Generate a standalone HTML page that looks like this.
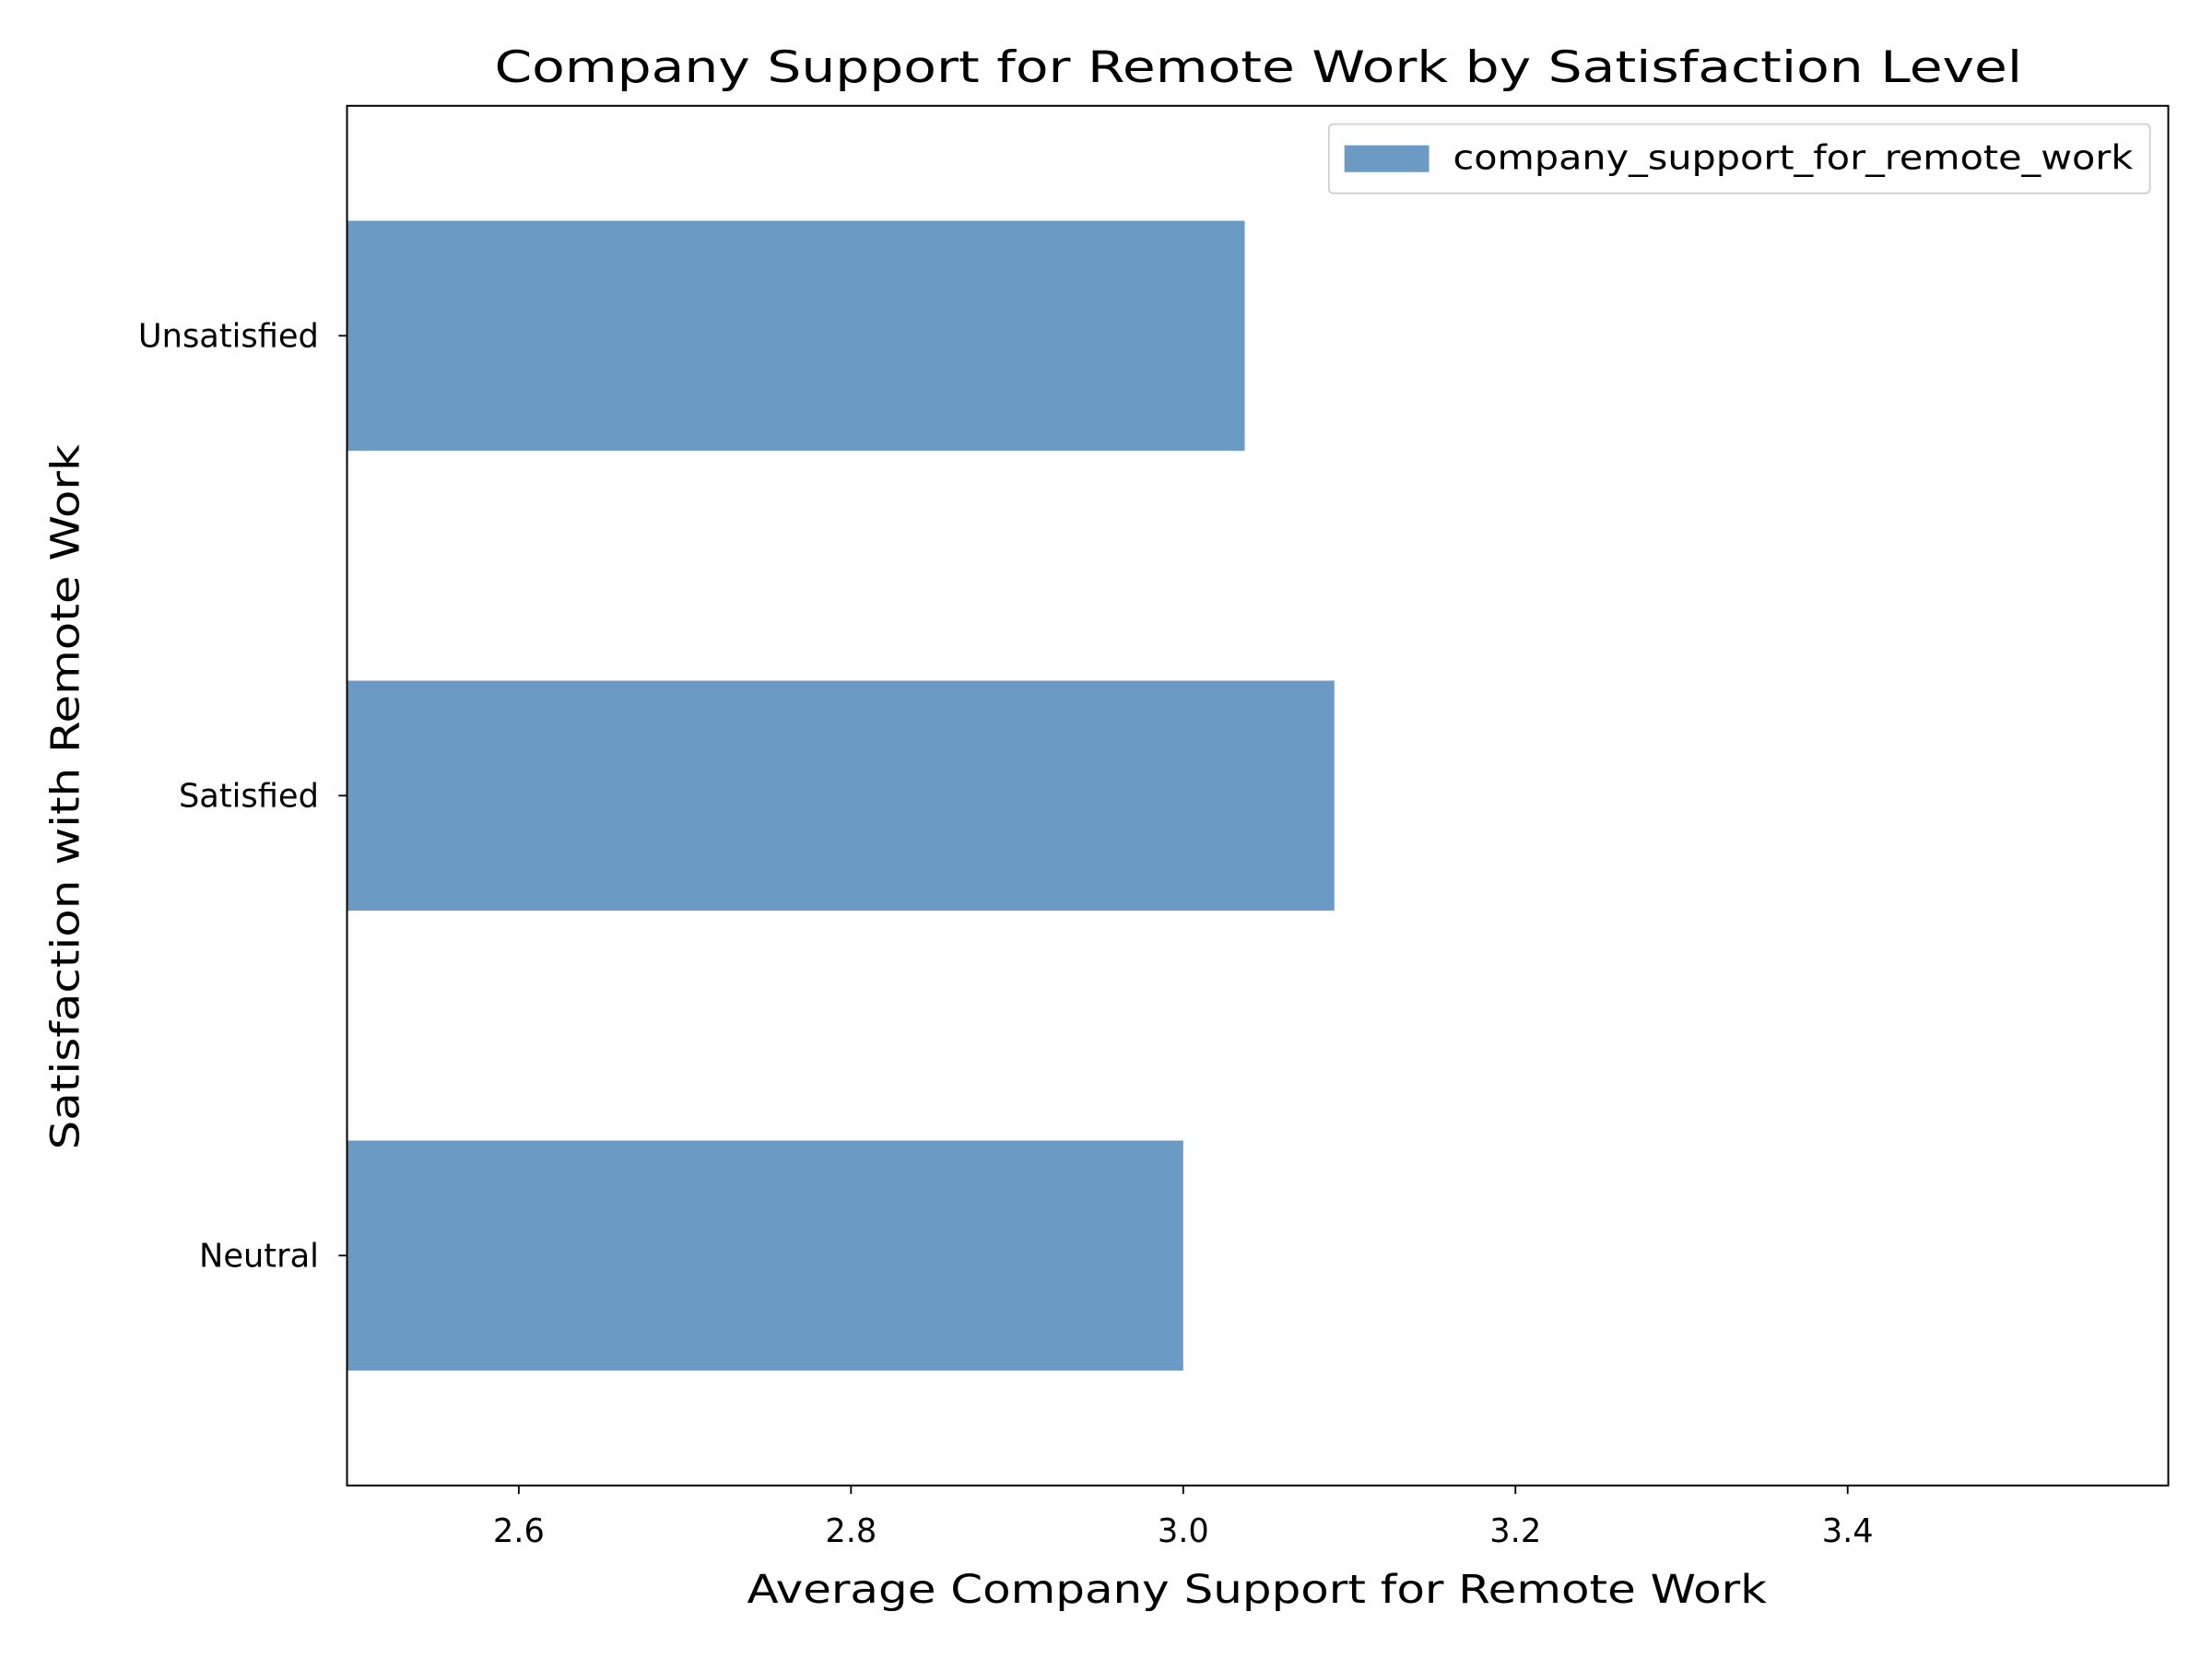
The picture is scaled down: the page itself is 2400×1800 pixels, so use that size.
<!DOCTYPE html>
<html><head><meta charset="utf-8"><style>
html,body{margin:0;padding:0;background:#fff;}
svg{display:block;font-family:"DejaVu Sans","Liberation Sans",sans-serif;}
</style></head><body>
<svg id="chart" width="2400" height="1800" viewBox="0 0 1568 1176" xmlns="http://www.w3.org/2000/svg">
<rect width="1568" height="1176" fill="#fff"/>
<text x="892" y="58" font-size="31" text-anchor="middle" textLength="1083" lengthAdjust="spacingAndGlyphs">Company Support for Remote Work by Satisfaction Level</text>
<g id="bars"></g>
<g id="xticks"></g>
<g id="yticks"></g>
<rect x="246" y="75" width="1291" height="978" fill="none" stroke="#000" stroke-width="1.3"/>
<text x="891" y="1136" font-size="28" text-anchor="middle" textLength="723" lengthAdjust="spacingAndGlyphs">Average Company Support for Remote Work</text>
<text x="0" y="0" font-size="28" text-anchor="middle" transform="translate(56,565) rotate(-90)" textLength="500" lengthAdjust="spacingAndGlyphs">Satisfaction with Remote Work</text>
<g>
<rect x="942" y="88" width="582" height="49" rx="3" fill="#fff" stroke="#d0d0d0" stroke-width="1.2"/>
<rect x="953" y="103" width="60" height="19" fill="#6b9bc4"/>
<text x="1030" y="120" font-size="24" textLength="482" lengthAdjust="spacingAndGlyphs">company_support_for_remote_work</text>
</g>
</svg>
<script>
const categories = ["Neutral", "Satisfied", "Unsatisfied"];
const values = [3.0, 3.091, 3.037];
const xTicks = [2.6, 2.8, 3.0, 3.2, 3.4];
const xTickLabels = ["2.6", "2.8", "3.0", "3.2", "3.4"];

const NS = "http://www.w3.org/2000/svg";
const L = 246, R = 1537, T = 75, B = 1053;
const xmin = 2.4966, xmax = 3.593;
const ymin = -0.5, ymax = 2.5;
const xs = v => L + (v - xmin) / (xmax - xmin) * (R - L);
const ys = i => B - (i - ymin) / (ymax - ymin) * (B - T);
function mk(tag, attrs){ const e = document.createElementNS(NS, tag); for (const k in attrs) e.setAttribute(k, attrs[k]); return e; }

const bars = document.getElementById('bars');
categories.forEach((c, i) => {
  const y0 = ys(i + 0.25), y1 = ys(i - 0.25);
  const r = mk('rect', {x: L, y: y0, width: xs(values[i]) - L, height: y1 - y0, fill: '#6b9bc4'});
  
  
  bars.appendChild(r);
});

const xg = document.getElementById('xticks');
xTicks.forEach((v, i) => {
  const x = xs(v);
  const t = mk('line', {x1: x, x2: x, y1: B, y2: B + 6, stroke: '#000', 'stroke-width': 1.2});
  
  
  xg.appendChild(t);
  const tx = mk('text', {x: x, y: B + 40, 'font-size': 23, 'text-anchor': 'middle'});
  tx.textContent = xTickLabels[i];
  
  
  xg.appendChild(tx);
});

const yg = document.getElementById('yticks');
categories.forEach((c, i) => {
  const y = ys(i);
  const t = mk('line', {x1: L - 6, x2: L, y1: y, y2: y, stroke: '#000', 'stroke-width': 1.2});
  
  
  yg.appendChild(t);
  const tx = mk('text', {x: L - 20, y: y + 8, 'font-size': 23, 'text-anchor': 'end'});
  tx.textContent = c;
  
  
  yg.appendChild(tx);
});
</script>
</body></html>
